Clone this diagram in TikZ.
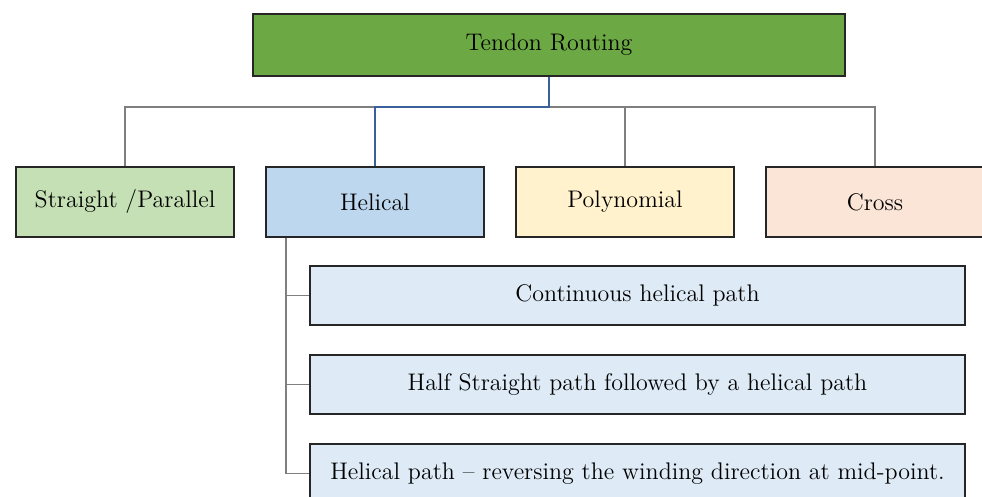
\documentclass[tikz,border=0pt]{standalone}
\definecolor{BoxEdge}{HTML}{262626}
\definecolor{RootGreen}{HTML}{6CA843}
\definecolor{StraightGreen}{HTML}{C5E0B4}
\definecolor{HelicalBlue}{HTML}{BDD7EE}
\definecolor{PolyYellow}{HTML}{FFF2CC}
\definecolor{CrossPink}{HTML}{FBE5D6}
\definecolor{PathBlue}{HTML}{DEEBF7}
\definecolor{LineGray}{HTML}{7F7F7F}
\definecolor{LineBlue}{HTML}{3A5F9A}
\usetikzlibrary{positioning,calc}
\tikzset{
  rootnode/.style={
    draw=BoxEdge,
    line width=1pt,
    fill=RootGreen,
    minimum width=296pt,
    minimum height=31pt,
    inner sep=0pt,
    font=\fontsize{12}{14}\selectfont
  },
  typenode/.style={
    draw=BoxEdge,
    line width=1pt,
    minimum width=109pt,
    minimum height=35pt,
    inner sep=0pt,
    font=\fontsize{12}{14}\selectfont
  },
  pathnode/.style={
    draw=BoxEdge,
    line width=1pt,
    fill=PathBlue,
    minimum width=327.5pt,
    minimum height=29.5pt,
    inner sep=0pt,
    font=\fontsize{12}{14}\selectfont
  },
  treeline/.style={
    line width=0.7pt,
    draw=LineGray
  },
  mainline/.style={
    line width=0.8pt,
    draw=LineBlue
  }
}
\begin{document}
\begin{tikzpicture}[node distance=14pt and 15pt]
\useasboundingbox (0,0) rectangle (491pt,-248.5pt);
\clip (0,0) rectangle (491pt,-248.5pt);
\node[rootnode] (routing) at (274.5pt,-22.5pt) {Tendon Routing};
\node[typenode, fill=StraightGreen] (straight) at (62.5pt,-101pt) {Straight /Parallel};
\node[typenode, fill=HelicalBlue, right=of straight] (helical) {Helical};
\node[typenode, fill=PolyYellow, right=of helical] (polynomial) {Polynomial};
\node[typenode, fill=CrossPink, right=of polynomial] (cross) {Cross};
\node[pathnode, below right=13.5pt and 22pt of helical.south west] (continuous) {Continuous helical path};
\node[pathnode, below=of continuous] (halfstraight) {Half Straight path followed by a helical path};
\node[pathnode, below=of halfstraight] (reversing) {Helical path -- reversing the winding direction at mid-point.};
\coordinate (bus) at ($(routing.south)+(0,-15pt)$);
\coordinate (trunk) at ($(helical.south west)+(10.5pt,0)$);
\draw[treeline] (straight.north) |- (bus) -| (cross.north);
\draw[treeline] (polynomial.north) -- (polynomial.north |- bus);
\draw[mainline] (routing.south) -- (bus) -| (helical.north);
\foreach \sub in {continuous,halfstraight,reversing}
  \draw[treeline] (trunk) |- (\sub.west);
\end{tikzpicture}
\end{document}
